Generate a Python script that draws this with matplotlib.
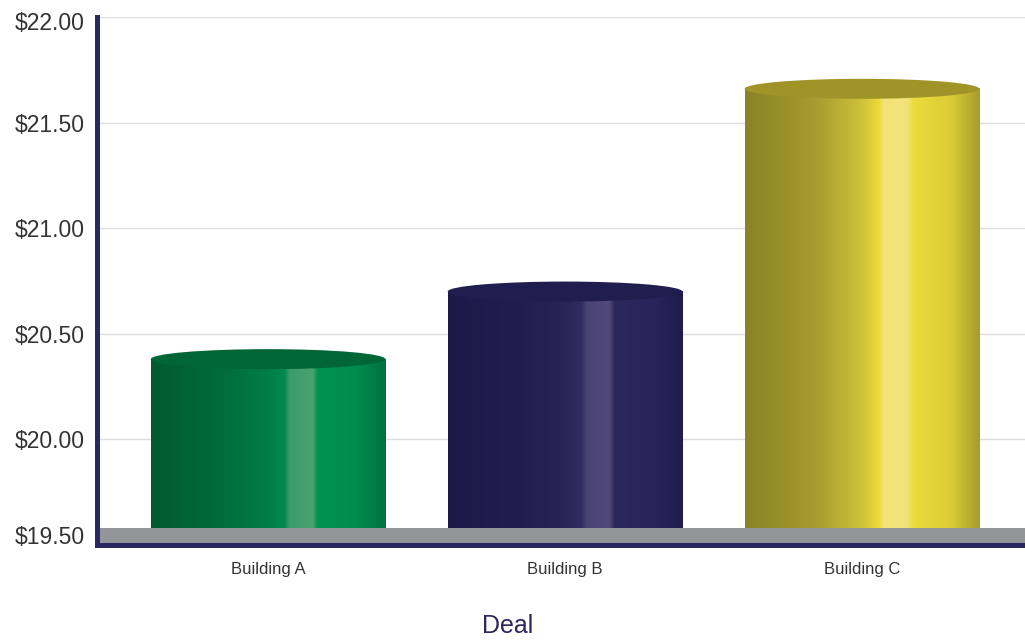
import numpy as np
import matplotlib
matplotlib.use("Agg")
import matplotlib.pyplot as plt
from matplotlib.patches import Ellipse
from matplotlib.colors import LinearSegmentedColormap
import matplotlib.transforms as mtransforms

plt.rcParams['font.family'] = ['Liberation Sans', 'DejaVu Sans']

# ---- data ----
categories = ["Building A", "Building B", "Building C"]
values = [20.38, 20.70, 21.66]
y_ticks = [19.5, 20.0, 20.5, 21.0, 21.5, 22.0]
y_tick_labels = ["$19.50", "$20.00", "$20.50", "$21.00", "$21.50", "$22.00"]
x_label = "Deal"

# ---- styles ----
body_stops = [
    [(0.0, "#005a30"), (0.3, "#006c3b"), (0.5, "#007e46"), (0.57, "#008a4d"),
     (0.59, "#3c9c6a"), (0.69, "#4aa272"), (0.71, "#00914f"), (0.88, "#008c4d"), (1.0, "#007240")],
    [(0.0, "#1d1947"), (0.3, "#221d50"), (0.5, "#2a2559"), (0.57, "#332d62"),
     (0.59, "#4b4375"), (0.69, "#51497a"), (0.71, "#2c275c"), (0.88, "#29245a"), (1.0, "#211c4e")],
    [(0.0, "#8b8226"), (0.3, "#a69c30"), (0.5, "#cfc23a"), (0.57, "#ecdb36"),
     (0.59, "#f4e27a"), (0.69, "#f3e27a"), (0.72, "#eddb3a"), (0.88, "#dccd38"), (1.0, "#a89c2c")],
]
top_colors = ["#006636", "#221d4f", "#a09429"]
navy = "#2b2760"

fig = plt.figure(figsize=(10.25, 6.42), dpi=100)
W, H = 1025, 642
ax = fig.add_axes([97 / W, (H - 545) / H, (W - 97) / W, (545 - 17) / H])

ymin, ymax = 19.5, 22.0
ax.set_ylim(ymin, ymax)
ax.set_xlim(-0.576, 2.549)

px_per_unit = (545 - 17) / (ymax - ymin)
band_top = ymin + 17 / px_per_unit
ry = 10 / px_per_unit
bw = 0.79

ax.set_yticks(y_ticks)
ax.set_yticklabels(y_tick_labels)
ax.yaxis.grid(True, color="#dedede", linewidth=1)
ax.set_axisbelow(True)

# floor band
ax.axhspan(ymin, band_top, color="#939598", zorder=2, linewidth=0)

grad = np.linspace(0, 1, 400).reshape(1, -1)
for i, (cat, v) in enumerate(zip(categories, values)):
    cmap = LinearSegmentedColormap.from_list(f"c{i}", body_stops[i])
    x0, x1 = i - bw / 2, i + bw / 2
    ax.imshow(grad, cmap=cmap, aspect="auto", extent=[x0, x1, band_top, v],
              zorder=3, interpolation="bilinear")
    ell = Ellipse((i, v), bw, 2 * ry, facecolor=top_colors[i], edgecolor="none", zorder=4)
    ax.add_patch(ell)

ax.set_xticks(range(len(categories)))
ax.set_xticklabels(categories)

for s in ["top", "right"]:
    ax.spines[s].set_visible(False)
for s in ["left", "bottom"]:
    ax.spines[s].set_color(navy)
    ax.spines[s].set_linewidth(3.6)
    ax.spines[s].set_zorder(5)

ax.tick_params(axis="y", length=0, pad=9, labelsize=16.5, labelcolor="#333333")
ax.tick_params(axis="x", length=0, pad=12, labelsize=12, labelcolor="#333333")

# nudge end labels like the reference
labs = ax.get_yticklabels()
labs[0].set_transform(labs[0].get_transform() + mtransforms.ScaledTranslation(0, 10 / 100, fig.dpi_scale_trans))
labs[-1].set_transform(labs[-1].get_transform() + mtransforms.ScaledTranslation(0, -4 / 100, fig.dpi_scale_trans))

fig.text(508 / W, 1 - 626 / H, x_label, ha="center", va="center", fontsize=18, color=navy)

fig.savefig("out.png", dpi=100)
